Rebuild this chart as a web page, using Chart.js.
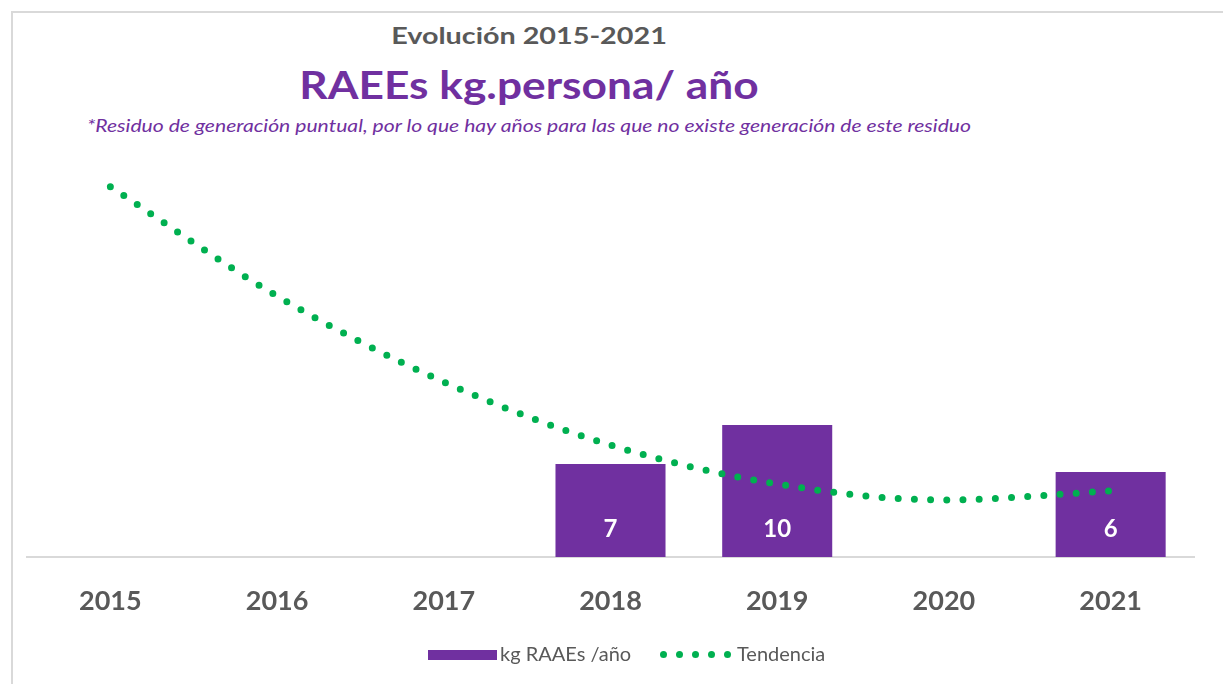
<!DOCTYPE html>
<html>
<head>
<meta charset="utf-8">
<script src="https://cdn.jsdelivr.net/npm/chart.js@4"></script>
<style>
  html,body{margin:0;padding:0;background:#fff;}
  body{width:1223px;height:684px;position:relative;overflow:hidden;font-family:Lato,"Open Sans",sans-serif;}
  #frame{position:absolute;left:11px;top:11px;width:1300px;height:800px;border:2px solid #D9D9D9;box-sizing:border-box;}
  .t{position:absolute;left:0;width:1058px;text-align:center;white-space:nowrap;line-height:1;transform-origin:529px 50%;}
  #t1{top:24px;font-size:23px;font-weight:700;color:#595959;transform:scaleX(1.25);}
  #t2{top:65px;font-size:39px;font-weight:700;color:#7030A0;transform:scaleX(1.135);}
  #t3{top:118px;font-size:16.5px;font-style:italic;color:#7030A0;transform:scaleX(1.28);}
  #cv{position:absolute;left:0;top:0;}
  .lg{position:absolute;font-size:20px;color:#595959;line-height:1;white-space:nowrap;}
  .dot{position:absolute;width:7px;height:7px;border-radius:50%;background:#00B050;top:651px;}
</style>
</head>
<body>
<div id="frame"></div>
<div class="t" id="t1">Evolución 2015-2021</div>
<div class="t" id="t2">RAEEs kg.persona/ año</div>
<div class="t" id="t3">*Residuo de generación puntual, por lo que hay años para las que no existe generación de este residuo</div>
<canvas id="cv" width="1223" height="684"></canvas>
<div style="position:absolute;left:428px;top:650px;width:69px;height:10px;background:#7030A0;"></div>
<div class="lg" style="left:500px;top:643px;">kg RAAEs /año</div>
<div class="dot" style="left:660px"></div>
<div class="dot" style="left:676px"></div>
<div class="dot" style="left:692px"></div>
<div class="dot" style="left:708px"></div>
<div class="dot" style="left:724px"></div>
<div class="lg" style="left:737px;top:643px;">Tendencia</div>
<script>
const categories = ['2015','2016','2017','2018','2019','2020','2021'];
const kgValues = [null, null, null, 7.05, 10, null, 6.44];
const trendValues = [28.05, 19.77, 13.26, 8.48, 5.53, 4.32, 5.0];

const barLabels = {
  id: 'barLabels',
  afterDatasetsDraw(chart) {
    const meta = chart.getDatasetMeta(1);
    const ctx = chart.ctx;
    ctx.save();
    ctx.fillStyle = '#FFFFFF';
    ctx.font = 'bold 24px Lato';
    ctx.textAlign = 'center';
    ctx.textBaseline = 'middle';
    meta.data.forEach((el, i) => {
      const v = kgValues[i];
      if (v === null || v === undefined) return;
      ctx.fillText(String(Math.round(v)), el.x, chart.chartArea.bottom - 28);
    });
    ctx.restore();
  }
};

new Chart(document.getElementById('cv'), {
  data: {
    labels: categories,
    datasets: [
      {
        type: 'line',
        label: 'Tendencia',
        data: trendValues,
        borderColor: '#00B050',
        borderWidth: 7,
        borderDash: [0, 16.2],
        borderCapStyle: 'round',
        pointRadius: 0,
        tension: 0.4,
        cubicInterpolationMode: 'monotone',
        order: 0
      },
      {
        type: 'bar',
        label: 'kg RAAEs /año',
        data: kgValues,
        backgroundColor: '#7030A0',
        borderWidth: 0,
        barPercentage: 0.66,
        categoryPercentage: 1,
        order: 1
      }
    ]
  },
  options: {
    responsive: false,
    animation: false,
    layout: { padding: { top: 161, left: 27, right: 29, bottom: 0 } },
    plugins: { legend: { display: false }, tooltip: { enabled: false }, title: { display: false } },
    scales: {
      x: {
        grid: { display: false, drawTicks: false },
        border: { display: true, color: '#D9D9D9', width: 2 },
        ticks: { color: '#595959', font: { family: 'Lato', size: 27, weight: 'bold' }, padding: 28 },
        afterFit(axis) { axis.height = 127; }
      },
      y: { display: false, min: 0, max: 30 }
    }
  },
  plugins: [barLabels]
});
</script>
</body>
</html>
